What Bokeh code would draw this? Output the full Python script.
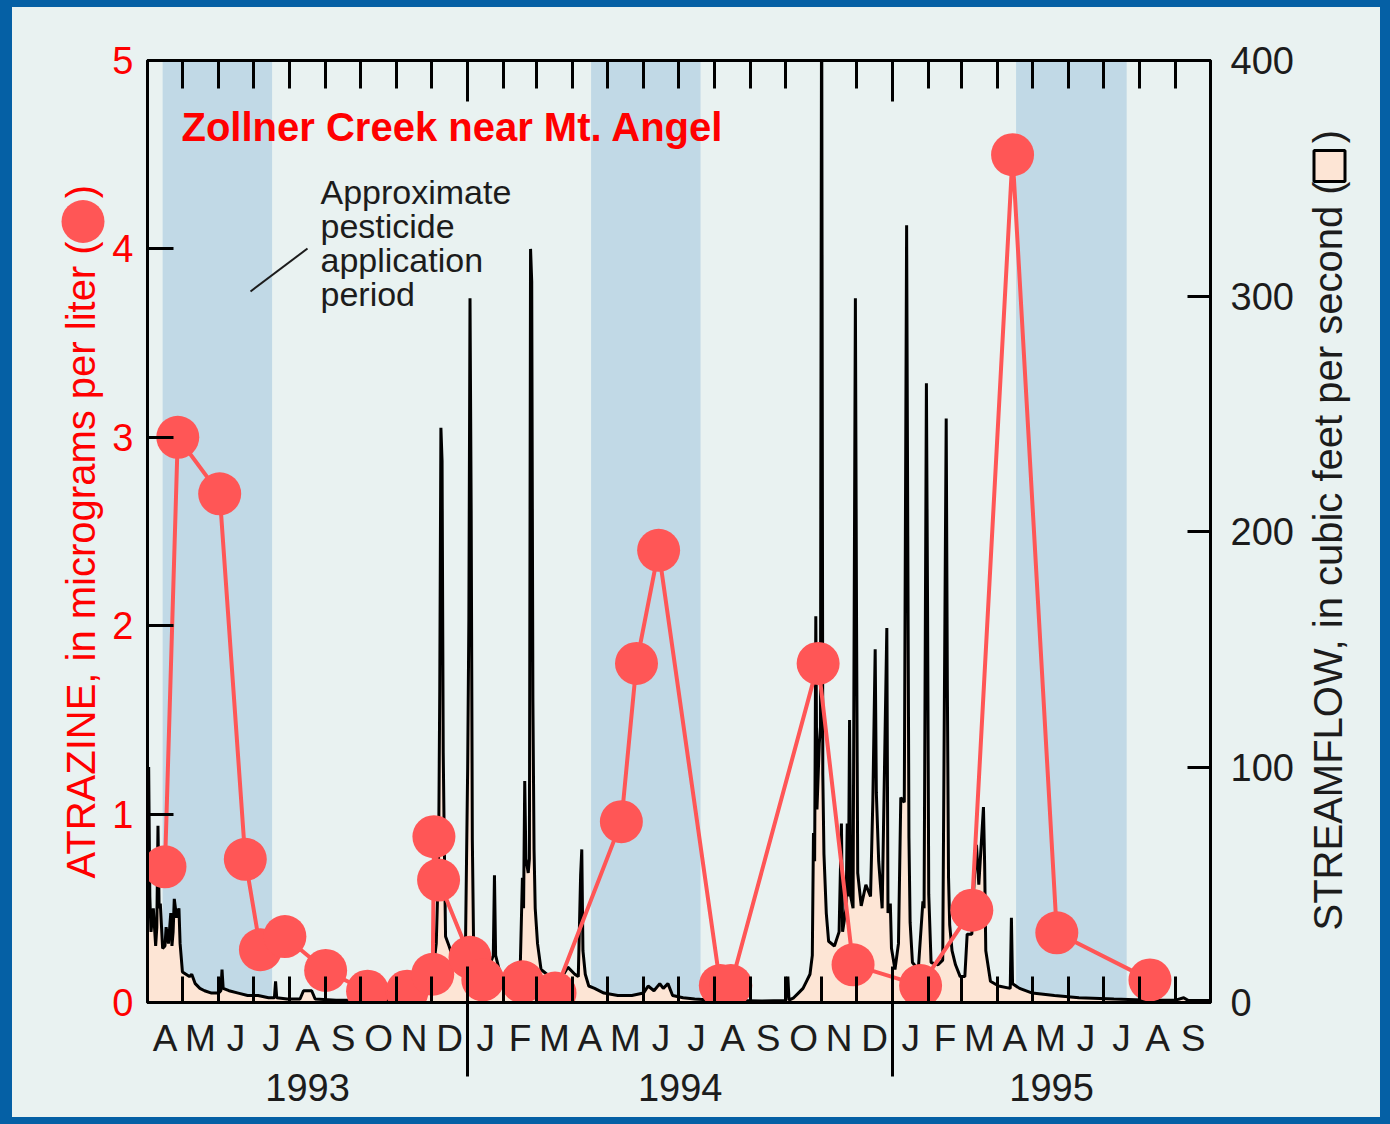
import math
import pandas as pd
from bokeh.plotting import figure
from bokeh.models import Range1d, LinearAxis, FixedTicker, Label
from bokeh.layouts import row
from bokeh.embed import file_html
from bokeh.resources import INLINE
from bokeh.core.properties import value

START = pd.Timestamp("1993-04-01")
END = pd.Timestamp("1995-10-01")

# ---------------- data ----------------
month_letters = ["A", "M", "J", "J", "A", "S", "O", "N", "D",
                 "J", "F", "M", "A", "M", "J", "J", "A", "S", "O", "N", "D",
                 "J", "F", "M", "A", "M", "J", "J", "A", "S"]
year_labels = ["1993", "1994", "1995"]
year_starts = ["1993-04-01", "1994-01-01", "1995-01-01"]
year_ends = ["1994-01-01", "1995-01-01", "1995-10-01"]

application_start = ["1993-04-14", "1994-04-17", "1995-04-17"]
application_end = ["1993-07-17", "1994-07-20", "1995-07-21"]

atrazine_dates = ["1993-04-16", "1993-04-27", "1993-06-02", "1993-06-24", "1993-07-07",
                  "1993-07-28", "1993-09-01", "1993-10-07", "1993-11-10", "1993-12-02",
                  "1993-12-03", "1993-12-07", "1994-01-03", "1994-01-14", "1994-02-17",
                  "1994-03-17", "1994-05-13", "1994-05-26", "1994-06-14", "1994-08-06",
                  "1994-08-15", "1994-10-29", "1994-11-28", "1995-01-25", "1995-03-10",
                  "1995-04-14", "1995-05-22", "1995-08-10"]
atrazine_ugL = [0.72, 3.00, 2.70, 0.76, 0.28,
                0.35, 0.17, 0.06, 0.06, 0.15,
                0.88, 0.65, 0.24, 0.12, 0.11,
                0.05, 0.96, 1.80, 2.40, 0.09,
                0.09, 1.80, 0.20, 0.09, 0.49,
                4.50, 0.37, 0.12]

flow_dates = [
    "1993-04-01", "1993-04-02", "1993-04-03", "1993-04-04", "1993-04-06", "1993-04-08",
    "1993-04-09", "1993-04-10", "1993-04-11", "1993-04-12", "1993-04-14", "1993-04-16",
    "1993-04-17", "1993-04-19", "1993-04-21", "1993-04-22", "1993-04-23", "1993-04-24",
    "1993-04-26", "1993-04-28", "1993-04-29", "1993-05-01", "1993-05-04", "1993-05-07",
    "1993-05-09", "1993-05-12", "1993-05-16", "1993-05-20", "1993-05-26", "1993-06-01",
    "1993-06-03", "1993-06-04", "1993-06-05", "1993-06-10", "1993-06-18", "1993-06-26",
    "1993-07-05", "1993-07-14", "1993-07-19", "1993-07-20", "1993-07-21", "1993-07-30",
    "1993-08-10", "1993-08-13", "1993-08-20", "1993-08-23", "1993-09-10", "1993-10-01",
    "1993-10-20", "1993-11-05", "1993-11-20", "1993-11-28", "1993-12-02", "1993-12-05",
    "1993-12-07", "1993-12-08", "1993-12-09", "1993-12-10", "1993-12-11", "1993-12-12",
    "1993-12-13", "1993-12-16", "1993-12-20", "1993-12-25", "1993-12-30",
    "1994-01-01", "1994-01-02", "1994-01-03", "1994-01-04", "1994-01-05", "1994-01-06",
    "1994-01-09", "1994-01-14", "1994-01-20", "1994-01-23", "1994-01-24", "1994-01-25",
    "1994-01-29", "1994-02-04", "1994-02-10", "1994-02-15", "1994-02-17", "1994-02-18",
    "1994-02-19", "1994-02-20", "1994-02-22", "1994-02-23", "1994-02-24", "1994-02-25",
    "1994-02-26", "1994-02-27", "1994-02-28", "1994-03-02", "1994-03-05", "1994-03-10",
    "1994-03-16", "1994-03-22", "1994-03-28", "1994-04-03", "1994-04-06", "1994-04-08",
    "1994-04-09", "1994-04-10", "1994-04-12", "1994-04-15", "1994-04-20", "1994-04-28",
    "1994-05-10", "1994-05-22", "1994-06-01", "1994-06-05", "1994-06-10", "1994-06-15",
    "1994-06-18", "1994-06-22", "1994-06-26", "1994-07-05", "1994-07-15", "1994-08-01",
    "1994-08-20", "1994-09-10", "1994-10-01", "1994-10-03", "1994-10-04", "1994-10-08",
    "1994-10-12", "1994-10-16", "1994-10-19", "1994-10-22", "1994-10-24", "1994-10-25",
    "1994-10-26", "1994-10-27", "1994-10-28", "1994-10-30", "1994-10-31", "1994-11-01",
    "1994-11-02", "1994-11-03", "1994-11-05", "1994-11-07", "1994-11-12", "1994-11-16",
    "1994-11-18", "1994-11-19", "1994-11-22", "1994-11-23", "1994-11-24", "1994-11-25",
    "1994-11-26", "1994-11-28", "1994-11-30", "1994-12-01", "1994-12-02", "1994-12-05",
    "1994-12-09", "1994-12-13", "1994-12-15", "1994-12-17", "1994-12-18", "1994-12-20",
    "1994-12-23", "1994-12-27", "1994-12-28", "1994-12-30", "1994-12-31",
    "1995-01-03", "1995-01-06", "1995-01-08", "1995-01-11", "1995-01-13", "1995-01-14",
    "1995-01-15", "1995-01-16", "1995-01-18", "1995-01-23", "1995-01-27", "1995-01-28",
    "1995-01-30", "1995-01-31", "1995-02-01", "1995-02-03", "1995-02-09", "1995-02-13",
    "1995-02-16", "1995-02-17", "1995-02-18", "1995-02-19", "1995-02-21", "1995-02-24",
    "1995-02-28", "1995-03-04", "1995-03-06", "1995-03-10", "1995-03-12", "1995-03-14",
    "1995-03-16", "1995-03-20", "1995-03-21", "1995-03-22", "1995-03-26", "1995-04-02",
    "1995-04-12", "1995-04-13", "1995-04-14", "1995-04-20", "1995-05-01", "1995-05-20",
    "1995-06-10", "1995-07-10", "1995-08-10", "1995-09-01", "1995-09-08", "1995-09-12",
    "1995-09-30"]
flow_cfs = [
    55, 100, 45, 30, 40, 24,
    32, 75, 40, 42, 23, 24,
    32, 25, 38, 24, 30, 44,
    36, 40, 25, 13, 12, 11,
    12, 8, 6, 5, 4, 4,
    5, 14, 6, 5, 4, 3,
    3, 2, 2, 9, 2, 1.5,
    1.5, 5, 5, 1.5, 1, 1,
    1, 1.5, 2, 5, 12, 25,
    60, 132, 244, 230, 106, 64,
    28, 24, 18, 14, 20,
    100, 162, 299, 209, 69, 28,
    20, 14, 16, 20, 54, 20,
    12, 10, 9, 12, 53, 40,
    94, 61, 55, 61, 320, 306,
    129, 65, 40, 25, 14, 12,
    9, 10, 15, 12, 11, 54,
    65, 22, 12, 7, 6, 4,
    3, 3, 4, 7, 5, 8,
    6, 8, 3, 2, 1.5, 1,
    0.8, 0.6, 0.8, 11, 1, 2,
    4, 6, 9, 12, 20, 72,
    60, 164, 82, 110, 117, 450,
    97, 63, 38, 26, 24, 30,
    76, 30, 40, 76, 45, 120,
    45, 40, 299, 161, 55, 41,
    50, 45, 86, 150, 89, 60,
    40, 159, 38, 42, 23,
    14, 25, 87, 85, 330, 198,
    70, 34, 17, 14, 43, 40,
    263, 167, 46, 17, 16, 18,
    248, 133, 53, 33, 22, 16,
    11, 11, 29, 29, 52, 67,
    50, 83, 59, 22, 9, 7,
    6, 36, 8, 6, 4, 3,
    2, 1.5, 1, 1, 2, 0.8,
    0.8]

left_ticks = [0, 1, 2, 3, 4, 5]
right_ticks = [0, 100, 200, 300, 400]

left_title = "ATRAZINE, in micrograms per liter ("
right_title = "STREAMFLOW, in cubic feet per second ("

# ---------------- helpers ----------------
def days(ds):
    return [float((pd.Timestamp(d) - START).days) for d in ds]

TOTAL = float((END - START).days)
month_bounds = days([d.strftime("%Y-%m-%d") for d in pd.date_range(START, END, freq="MS")])
mid_months = [(a + b) / 2 for a, b in zip(month_bounds[:-1], month_bounds[1:])]
year_bounds = days(year_starts[1:])
year_mid = [(a + b) / 2 for a, b in zip(days(year_starts), days(year_ends))]
inner_month_bounds = [m for m in month_bounds[1:-1] if m not in year_bounds]

BG = "#e9f2f1"
BAND = "#c1d9e6"
PEACH = "#fde5d5"
RED = "#ff0000"
SALMON = "#ff5656"
INK = "#1c1c1c"
BLUE = "#0560a5"
FONT = "Liberation Sans"

H = 1110          # all three panels; placed at page y = 7
TOP_B, BOT_B = 53, 115   # frame: page y 60 .. 1002
LEFT_W = 95       # page x 12 .. 107
MAIN_W = 1191     # page x 107 .. 1298
RIGHT_W = 82      # page x 1298 .. 1380

# ---------------- main chart: frame x 147..1210, y 60..1002 ----------------
p = figure(width=MAIN_W, height=H,
           x_range=Range1d(0, TOTAL), y_range=Range1d(0, 5),
           output_backend="svg", toolbar_location=None,
           x_axis_location=None, y_axis_location=None,
           min_border_left=40, min_border_right=88,
           min_border_top=TOP_B, min_border_bottom=BOT_B,
           background_fill_color=BG, border_fill_color=BG,
           outline_line_color="black", outline_line_width=3)
p.extra_y_ranges = {"flow": Range1d(0, 400)}
p.grid.grid_line_color = None

# application periods
p.quad(left=days(application_start), right=days(application_end), bottom=0, top=5,
       fill_color=BAND, line_color=None)

# streamflow
fx = days(flow_dates)
p.varea(x=fx, y1=[0] * len(fx), y2=flow_cfs, fill_color=PEACH, y_range_name="flow")
p.line(fx, flow_cfs, line_color="black", line_width=3, y_range_name="flow")

# atrazine
ax = days(atrazine_dates)
p.line(ax, atrazine_ugL, line_color=SALMON, line_width=4)
p.scatter(ax, atrazine_ugL, size=43, fill_color=SALMON, line_color=None)

# ---------------- axes ----------------
left = LinearAxis(ticker=FixedTicker(ticks=left_ticks),
                  major_tick_in=26, major_tick_out=0, major_tick_line_width=3,
                  axis_line_width=3, minor_tick_line_color=None,
                  major_label_text_color=RED, major_label_text_font=FONT,
                  major_label_text_font_size="38px", major_label_standoff=14)
p.add_layout(left, "left")

right = LinearAxis(y_range_name="flow", ticker=FixedTicker(ticks=right_ticks),
                   major_tick_in=23, major_tick_out=0, major_tick_line_width=3,
                   axis_line_width=3, minor_tick_line_color=None,
                   major_label_text_color=INK, major_label_text_font=FONT,
                   major_label_text_font_size="38px", major_label_standoff=20)
p.add_layout(right, "right")

top = LinearAxis(ticker=FixedTicker(ticks=year_bounds, minor_ticks=inner_month_bounds),
                 major_tick_in=41, major_tick_out=0, major_tick_line_width=3,
                 minor_tick_in=28, minor_tick_out=0, minor_tick_line_width=3,
                 minor_tick_line_color="black", axis_line_width=3,
                 major_label_overrides={t: "" for t in year_bounds},
                 major_label_text_font_size="10px", major_label_standoff=0)
p.add_layout(top, "above")

bottom = LinearAxis(ticker=FixedTicker(ticks=mid_months, minor_ticks=month_bounds[1:-1]),
                    major_tick_line_color=None, major_tick_in=0, major_tick_out=0,
                    minor_tick_in=26, minor_tick_out=0, minor_tick_line_width=3,
                    minor_tick_line_color="black", axis_line_width=3,
                    major_label_overrides={m: l for m, l in zip(mid_months, month_letters)},
                    major_label_text_font=FONT, major_label_text_font_size="37px",
                    major_label_text_color=INK, major_label_standoff=15)
p.add_layout(bottom, "below")

years = LinearAxis(ticker=FixedTicker(ticks=year_mid, minor_ticks=year_bounds),
                   axis_line_color=None, major_tick_line_color=None,
                   major_tick_in=0, major_tick_out=0,
                   minor_tick_in=95, minor_tick_out=15, minor_tick_line_width=3,
                   minor_tick_line_color="black",
                   major_label_overrides={m: l for m, l in zip(year_mid, year_labels)},
                   major_label_text_font=FONT, major_label_text_font_size="38px",
                   major_label_text_color=INK, major_label_standoff=-3)
p.add_layout(years, "below")

# ---------------- annotations in the chart ----------------
PX_PER_DAY = (1210 - 147) / TOTAL
def dx(px):
    return (px - 147) / PX_PER_DAY
def dy(py):
    return (1002 - py) / 188.4

p.add_layout(Label(x=dx(181), y=dy(126), text="Zollner Creek near Mt. Angel",
                   text_font=FONT, text_font_style="bold", text_font_size="40px",
                   text_color=RED, text_baseline="middle", text_align="left"))

for i, line in enumerate(["Approximate", "pesticide", "application", "period"]):
    p.add_layout(Label(x=dx(320), y=dy(191 + 34 * i), text=line,
                       text_font=FONT, text_font_size="34px", text_color=INK,
                       text_baseline="middle", text_align="left"))
p.segment(x0=[dx(250)], y0=[dy(291)], x1=[dx(307)], y1=[dy(248)],
          line_color=INK, line_width=2)

# ---------------- side panels holding the axis titles ----------------
# their frames span the same page rows as the chart frame (60..1002); y = -page_y
def side_panel(x0, w):
    s = figure(width=w, height=H,
               x_range=Range1d(x0, x0 + w), y_range=Range1d(-1002, -60),
               output_backend="svg", toolbar_location=None,
               x_axis_location=None, y_axis_location=None,
               min_border_left=0, min_border_right=0,
               min_border_top=TOP_B, min_border_bottom=BOT_B,
               background_fill_color=BG, border_fill_color=BG,
               outline_line_color=None)
    s.grid.grid_line_color = None
    return s

pl = side_panel(12, LEFT_W)
pl.text(x=[80.5], y=[-878], text=[left_title], angle=math.pi / 2,
        text_align="left", text_baseline="middle",
        text_font=value(FONT), text_font_size="40px", text_color=RED)
pl.scatter(x=[82.5], y=[-221], size=43, fill_color=SALMON, line_color=None)
pl.text(x=[80.5], y=[-191], text=[")"], angle=math.pi / 2,
        text_align="center", text_baseline="middle",
        text_font=value(FONT), text_font_size="40px", text_color=RED)

pr = side_panel(12 + LEFT_W + MAIN_W, RIGHT_W)
pr.text(x=[1327], y=[-930], text=[right_title], angle=math.pi / 2,
        text_align="left", text_baseline="middle",
        text_font=value(FONT), text_font_size="40px", text_color=INK)
pr.scatter(x=[1329], y=[-165.5], marker="square", size=31,
           fill_color=PEACH, line_color="black", line_width=3)
pr.text(x=[1327], y=[-136], text=[")"], angle=math.pi / 2,
        text_align="center", text_baseline="middle",
        text_font=value(FONT), text_font_size="40px", text_color=INK)

layout = row(pl, p, pr, spacing=0,
             styles={"background-color": BG, "border-style": "solid",
                     "border-color": BLUE, "border-width": "7px 10px 7px 12px"})

open("out.html", "w").write(file_html(layout, INLINE))
